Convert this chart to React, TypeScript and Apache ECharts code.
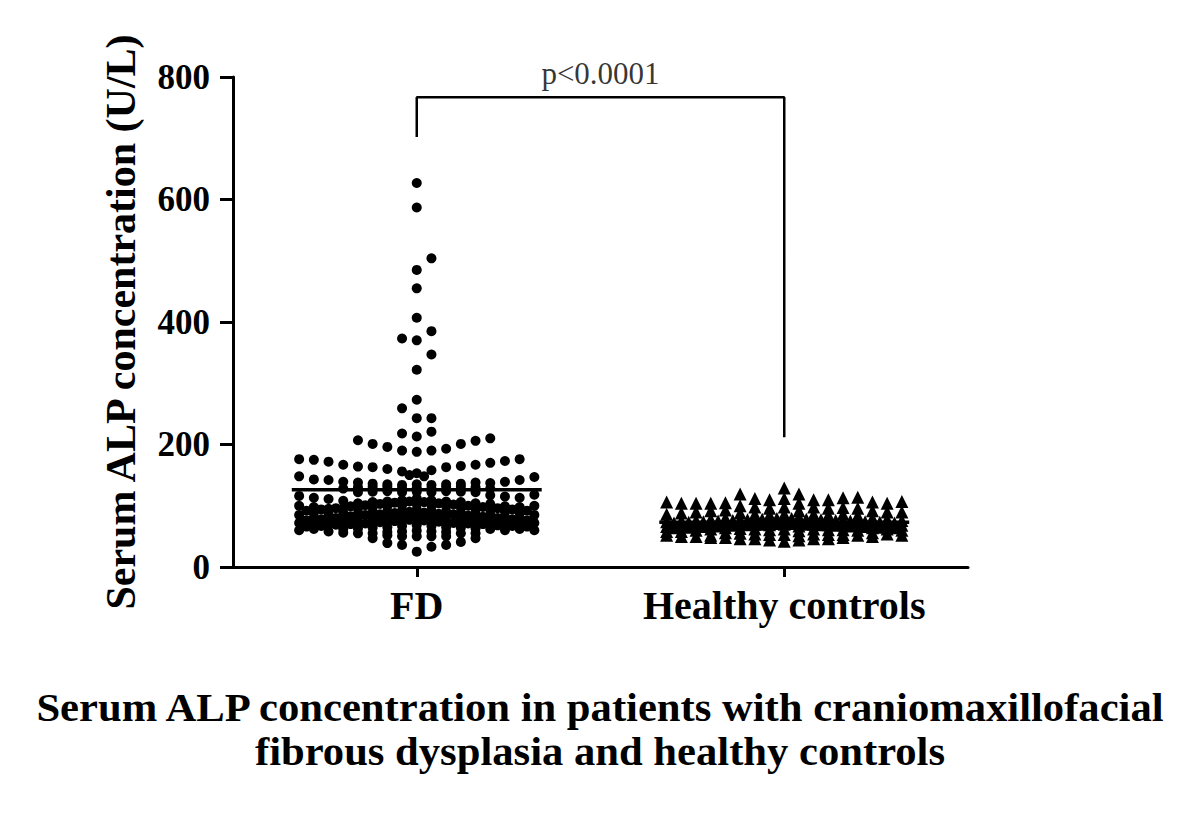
import React, { useEffect, useRef } from "react";
import * as echarts from "echarts";

const categories = ["FD", "Healthy controls"];
const yMin = 0;
const yMax = 800;
const yInterval = 200;

// column offsets (beeswarm columns) around each group centre
const columnOffsets = [-8, -7, -6, -5, -4, -3, -2, -1, 0, 1, 2, 3, 4, 5, 6, 7, 8];
const halfOffsets = [-7.5, -6.5, -5.5, -4.5, -3.5, -2.5, -1.5, -0.5, 0.5, 1.5, 2.5, 3.5, 4.5, 5.5, 6.5, 7.5];

// FD values, one list per column
const fdColumns: number[][] = [
  [176, 148, 116, 100, 85, 72, 60],
  [175, 143, 113, 98, 88, 80, 70, 62],
  [172, 142, 111, 95, 86, 78, 68, 58],
  [167, 139, 128, 108, 96, 88, 80, 72, 62, 56],
  [207, 164, 138, 130, 122, 104, 95, 87, 80, 72, 63, 55],
  [201, 163, 136, 131, 123, 106, 97, 89, 80, 72, 64, 55, 47],
  [196, 160, 135, 131, 124, 107, 99, 90, 82, 73, 65, 57, 52, 39],
  [373, 259, 218, 190, 156, 134, 128, 122, 109, 101, 92, 84, 75, 67, 58, 50, 36],
  [627, 587, 485, 455, 407, 370, 322, 273, 243, 213, 188, 153, 135, 129, 123, 112, 103, 94, 85, 76, 68, 59, 50, 25],
  [504, 385, 347, 243, 221, 190, 158, 134, 128, 122, 109, 101, 92, 84, 75, 67, 58, 50, 33],
  [193, 163, 135, 131, 124, 107, 99, 90, 82, 73, 65, 57, 50, 36],
  [201, 165, 136, 131, 123, 106, 97, 89, 80, 72, 64, 55, 41],
  [206, 167, 138, 130, 122, 104, 95, 87, 80, 72, 63, 55, 47],
  [210, 170, 137, 128, 117, 103, 94, 86, 78, 70, 62],
  [173, 139, 115, 99, 90, 82, 74, 66, 60],
  [176, 142, 113, 98, 88, 80, 70, 62],
  [147, 118, 100, 85, 72, 60],
];

// FD values sitting between the columns (dense band)
const fdHalfColumns: number[][] = [
  [92, 76, 66],
  [94, 78, 67],
  [96, 80, 69],
  [99, 83, 70],
  [101, 85, 71],
  [103, 86, 73],
  [105, 88, 75],
  [107, 90, 77, 150],
  [106, 89, 76, 148],
  [104, 87, 74],
  [102, 86, 72],
  [100, 84, 71],
  [98, 82, 70],
  [96, 80, 68],
  [94, 78, 67],
  [92, 76, 66],
];

// Healthy controls values, one list per column
const hcColumns: number[][] = [
  [106, 86, 74, 66, 58, 52],
  [104, 88, 75, 67, 58, 50],
  [104, 90, 76, 68, 60, 50],
  [104, 92, 78, 70, 62, 52, 48],
  [105, 93, 80, 72, 64, 56, 48],
  [119, 100, 88, 78, 70, 63, 55, 46],
  [112, 98, 86, 77, 70, 62, 54, 46],
  [110, 96, 85, 76, 69, 61, 53, 44],
  [129, 112, 98, 86, 77, 70, 62, 53, 42],
  [119, 104, 92, 82, 74, 67, 59, 51, 44],
  [110, 98, 86, 77, 70, 62, 54, 46],
  [110, 96, 85, 76, 69, 61, 53, 46],
  [113, 97, 86, 76, 69, 61, 53, 48],
  [114, 96, 84, 75, 68, 60, 52],
  [106, 92, 80, 72, 64, 56, 50],
  [104, 90, 78, 70, 62, 54],
  [107, 90, 76, 68, 60, 52],
];

// Healthy controls values between the columns (dense band)
const hcHalfColumns: number[][] = [
  [72, 64],
  [73, 65],
  [74, 66],
  [75, 67],
  [76, 68],
  [77, 69],
  [78, 70],
  [79, 71],
  [79, 71],
  [78, 70],
  [77, 69],
  [76, 68],
  [75, 67],
  [74, 66],
  [73, 65],
  [72, 64],
];

const fdMean = 126;
const hcMean = 73;
const bracketLeftBottom = 702;
const bracketTop = 767;
const bracketRightBottom = 212;
const pText = "p<0.0001";
const yAxisName = "Serum ALP concentration (U/L)";
const chartTitle =
  "Serum ALP concentration in patients with craniomaxillofacial\nfibrous dysplasia and healthy controls";

const COL_STEP = 0.04;
const MEAN_HALF = 0.34;
const FONT = "'Liberation Serif', 'Times New Roman', serif";

function buildPoints(center: number, offsets: number[], cols: number[][]) {
  const out: number[][] = [];
  cols.forEach((vals, i) => {
    vals.forEach((v) => out.push([center + offsets[i] * COL_STEP, v]));
  });
  return out;
}

export default function App() {
  const ref = useRef<HTMLDivElement>(null);
  useEffect(() => {
    if (!ref.current) return;
    const chart = echarts.init(ref.current, undefined, { renderer: "svg" });
    const fdData = buildPoints(1, columnOffsets, fdColumns).concat(
      buildPoints(1, halfOffsets, fdHalfColumns)
    );
    const hcData = buildPoints(2, columnOffsets, hcColumns).concat(
      buildPoints(2, halfOffsets, hcHalfColumns)
    );
    const option: any = {
      animation: false,
      backgroundColor: "#ffffff",
      graphic: [
        {
          type: "text",
          x: 600,
          y: 685,
          scaleX: 1.066,
          style: {
            text: chartTitle,
            textAlign: "center",
            textVerticalAlign: "top",
            fontFamily: FONT,
            fontWeight: "bold",
            fontSize: 40,
            lineHeight: 44,
            fill: "#000",
          },
        },
      ],
      grid: { left: 233, right: 232, top: 77, bottom: 246, containLabel: false },
      xAxis: {
        type: "value",
        min: 0.5,
        max: 2.5,
        interval: 0.5,
        splitLine: { show: false },
        axisLine: { show: true, lineStyle: { color: "#000", width: 3 } },
        axisTick: {
          show: true,
          customValues: [1, 2],
          length: 10,
          lineStyle: { color: "#000", width: 3 },
        },
        axisLabel: {
          customValues: [1, 2],
          formatter: (v: number) => categories[Math.round(v) - 1] ?? "",
          fontFamily: FONT,
          fontWeight: "bold",
          fontSize: 40,
          color: "#000",
          margin: 18,
        },
      },
      yAxis: {
        type: "value",
        min: yMin,
        max: yMax,
        interval: yInterval,
        splitLine: { show: false },
        axisLine: { show: true, lineStyle: { color: "#000", width: 3 } },
        axisTick: { show: true, length: 13, lineStyle: { color: "#000", width: 3 } },
        axisLabel: {
          fontFamily: FONT,
          fontWeight: "bold",
          fontSize: 35,
          color: "#000",
          margin: 23,
        },
        name: yAxisName,
        nameLocation: "middle",
        nameGap: 91,
        nameTextStyle: {
          fontFamily: FONT,
          fontWeight: "bold",
          fontSize: 42,
          color: "#000",
        },
      },
      series: [
        {
          type: "scatter",
          name: categories[0],
          data: fdData,
          symbol: "circle",
          symbolSize: 10,
          itemStyle: { color: "#000", opacity: 1 },
          z: 2,
        },
        {
          type: "scatter",
          name: categories[1],
          data: hcData,
          symbol: "triangle",
          symbolSize: 13,
          itemStyle: { color: "#000", opacity: 1 },
          z: 2,
        },
        {
          type: "line",
          data: [
            [1 - MEAN_HALF, fdMean],
            [1 + MEAN_HALF, fdMean],
          ],
          symbol: "none",
          lineStyle: { color: "#000", width: 3.5 },
          z: 3,
        },
        {
          type: "line",
          data: [
            [2 - MEAN_HALF, hcMean],
            [2 + MEAN_HALF, hcMean],
          ],
          symbol: "none",
          lineStyle: { color: "#000", width: 3.5 },
          z: 3,
        },
        {
          type: "line",
          data: [
            [1, bracketLeftBottom],
            [1, bracketTop],
            [2, bracketTop],
            [2, bracketRightBottom],
          ],
          symbol: "none",
          lineStyle: { color: "#000", width: 2.5 },
          z: 3,
        },
        {
          type: "scatter",
          data: [[1.5, bracketTop]],
          symbolSize: 0,
          silent: true,
          label: {
            show: true,
            position: "top",
            distance: 8,
            formatter: pText,
            fontFamily: FONT,
            fontSize: 31,
            color: "#000",
          },
        },
      ],
    };
    chart.setOption(option);
    return () => chart.dispose();
  }, []);
  return (
    <div
      ref={ref}
      style={{ position: "fixed", left: 0, top: 0, width: 1200, height: 813, background: "#fff" }}
    />
  );
}
